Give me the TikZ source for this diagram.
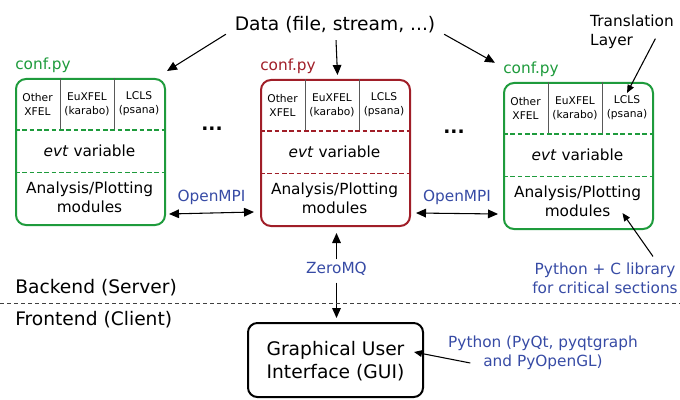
\documentclass[tikz,border=0pt]{standalone}
\usepackage{fontspec}
\setmainfont{DejaVu Sans}
\usetikzlibrary{arrows.meta,calc,positioning}
\definecolor{confgreen}{RGB}{30,155,60}
\definecolor{confred}{RGB}{160,30,40}
\definecolor{noteblue}{RGB}{55,75,165}
\newcommand{\bigsize}{\fontsize{14}{17}\selectfont}
\newcommand{\midsize}{\fontsize{11.5}{14.5}\selectfont}
\newcommand{\cellsize}{\fontsize{8}{10.5}\selectfont}
\begin{document}
\begin{tikzpicture}[x=0.75pt,y=-0.75pt,font=\midsize]
      \tikzstyle{confnode}=[draw, line width=1.5pt, rounded corners=7.5pt, minimum width=111.75pt, minimum height=109.5pt, anchor=north west, inner sep=0]
      \tikzstyle{cellnode}=[font=\cellsize, align=center, inner sep=2pt]
      \tikzstyle{modnode}=[align=center, inner sep=2pt]
      \tikzstyle{guinode}=[draw, line width=1.5pt, rounded corners=7pt, minimum width=131.25pt, minimum height=55.5pt, align=center, font=\bigsize, text depth=0pt]
      \tikzstyle{notenode}=[text=noteblue, align=center, inner sep=2pt]
      \tikzstyle{arr}=[-{Triangle[length=7.5pt,width=6.5pt]}, line width=0.8pt]
      \tikzstyle{darr}=[{Triangle[length=7.5pt,width=6.5pt]}-{Triangle[length=7.5pt,width=6.5pt]}, line width=0.8pt]
      \useasboundingbox (0,0) rectangle (680,399);

      \foreach \n/\x/\y/\c in {left/15/78/confgreen, mid/260/79/confred, right/503/82/confgreen} {
        \node[confnode, draw=\c] (\n) at (\x,\y) {};
        \node[text=\c, anchor=base west, inner sep=0] (\n-label) at (\x,\y-8) {conf.py};
        \draw[gray!70!black, line width=0.6pt] (\x+45,\y) -- (\x+45,\y+52) (\x+99,\y) -- (\x+99,\y+52);
        \draw[\c, line width=1.1pt, dash pattern=on 3.5pt off 2pt] (\x,\y+52) -- (\x+149,\y+52) (\x,\y+94.5) -- (\x+149,\y+94.5);
        \node[cellnode] (\n-a) at (\x+22.5,\y+26) {Other\\XFEL};
        \node[cellnode] (\n-b) at (\x+72,\y+26) {EuXFEL\\(karabo)};
        \node[cellnode] (\n-c) at (\x+124,\y+26) {LCLS\\(psana)};
        \node (\n-evt) at (\x+74.5,\y+73) {\textit{evt} variable};
        \node[modnode] (\n-mod) at (\x+74.5,\y+119.5) {Analysis/Plotting\\modules};
      }

      \node[font=\bigsize, inner sep=2pt] (data) at (335,25) {Data (file, stream, ...)};
      \draw[arr] ($(data.south west)+(-6,-2)$) -- ($(left.north east)+(1,-7)$);
      \draw[arr] ($(data.south)+(1,4)$) -- ($(mid.north)+(2,-4)$);
      \draw[arr] ($(data.south east)+(6,-2)$) -- ($(right-label.west)+(-8,-7)$);

      \node[font=\bigsize\bfseries] (dots-l) at (212,129) {...};
      \node[font=\bigsize\bfseries] (dots-r) at (454,132) {...};

      \node[align=left, inner sep=1pt] (trans) at (632,32) {Translation\\Layer};
      \draw[line width=0.8pt, -{Triangle[length=6pt,width=5pt]}] ($(trans.south east)+(-20,-12)$) -- (right-c.north);

      \draw[darr] ($(left.south east)+(3,-12)$) -- node[notenode, above=4pt] (mpi-l) {OpenMPI} ($(mid.south west)+(-6,-15)$);
      \draw[darr] ($(mid.south east)+(5,-14)$) -- node[notenode, above=4pt] (mpi-r) {OpenMPI} ($(right.south west)+(-5,-16)$);

      \node[notenode] (pyc) at (605,278) {Python + C library\\for critical sections};
      \draw[line width=0.8pt, -{Triangle[length=6pt,width=5pt]}] ($(pyc.north)+(48,-3)$) -- ($(right-mod.south)+(45,-7)$);

      \node[notenode] (zmq) at (336.5,269) {ZeroMQ};
      \node[guinode] (gui) at (335.5,360) {Graphical User\\Interface (GUI)};
      \draw[arr, shorten >=4.5pt] (zmq.north) -- (zmq.north |- mid.south);
      \draw[arr, shorten <=3pt, shorten >=3pt] (zmq.south) -- (zmq.south |- gui.north);

      \node[font=\bigsize, anchor=west, inner sep=0] (backend) at (15,288) {Backend (Server)};
      \node[font=\bigsize, anchor=west, inner sep=0] (frontend) at (15,320) {Frontend (Client)};
      \draw[black!75, line width=0.6pt, dash pattern=on 3pt off 2.25pt] (0,303) -- (680,303);

      \node[notenode] (pyqt) at (543,353) {Python (PyQt, pyqtgraph\\and PyOpenGL)};
      \draw[line width=0.8pt, -{Triangle[length=6pt,width=5pt]}] ($(pyqt.west)+(25,10)$) -- ($(gui.east)+(-10,-8)$);
\end{tikzpicture}
\end{document}
